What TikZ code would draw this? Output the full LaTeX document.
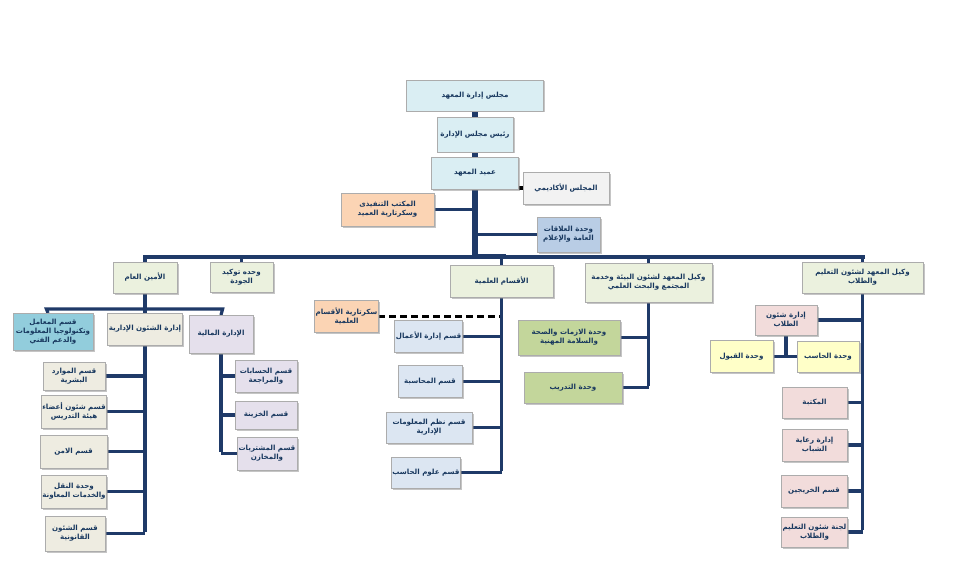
\documentclass[tikz,border=0pt]{standalone}
\usepackage{fontspec}
\usetikzlibrary{shadows}
\TeXXeTstate=1
\newfontfamily\arabicfont[Script=Arabic]{DejaVu Sans}
\newcommand\ar[1]{{\arabicfont\bfseries\beginR #1\endR}}
\definecolor{txt}{HTML}{17375E}
\definecolor{navy}{HTML}{1F3A68}
\definecolor{topblue}{HTML}{DAEEF3}
\definecolor{acadgray}{HTML}{F2F2F2}
\definecolor{peach}{HTML}{FBD4B4}
\definecolor{prblue}{HTML}{B9CDE5}
\definecolor{topgreen}{HTML}{EBF1DE}
\definecolor{itblue}{HTML}{92CDDC}
\definecolor{beige}{HTML}{EEECE1}
\definecolor{lav}{HTML}{E5E0EC}
\definecolor{lblue}{HTML}{DCE6F2}
\definecolor{grn}{HTML}{C3D69B}
\definecolor{pnk}{HTML}{F2DCDB}
\definecolor{yel}{HTML}{FFFFC8}
\pgfdeclarelayer{bg}
\pgfsetlayers{bg,main}
\begin{document}
\begin{tikzpicture}[x=1pt,y=-1pt,
  box/.style={draw=gray!65, line width=0.8pt, align=center, inner sep=1pt, outer sep=0pt,
    text=txt, font=\fontsize{7.1}{9}\selectfont,
    drop shadow={shadow xshift=1.5pt, shadow yshift=-1.5pt, fill=black!45, opacity=0.5}},
  conn/.style={draw=navy, line width=3.2pt},
  spine/.style={draw=navy, line width=5.5pt},
  blk/.style={draw=black, line width=3.4pt},
  dsh/.style={draw=black, line width=2.8pt, dash pattern=on 7pt off 4pt}]
\useasboundingbox (0,0) rectangle (953,575);
% top chain
\node[box, fill=topblue, minimum width=137pt, minimum height=31pt] (council) at (475,95.5) {\ar{مجلس إدارة المعهد}};
\node[box, fill=topblue, minimum width=76pt, minimum height=35pt] (chair) at (475,134.5) {\ar{رئيس مجلس الإدارة}};
\node[box, fill=topblue, minimum width=87pt, minimum height=32pt] (dean) at (475,173) {\ar{عميد المعهد}};
\node[box, fill=acadgray, minimum width=86pt, minimum height=32pt] (acad) at (566,188) {\ar{المجلس الأكاديمي}};
\node[box, fill=peach, minimum width=93pt, minimum height=33pt] (exec) at (387.5,209.5) {\ar{المكتب التنفيذى}\\\ar{وسكرتارية العميد}};
\node[box, fill=prblue, minimum width=63pt, minimum height=35pt] (pr) at (568.5,234.5) {\ar{وحدة العلاقات}\\\ar{العامة والإعلام}};
% first level
\node[box, fill=topgreen, minimum width=64pt, minimum height=31pt] (amin) at (145,277.5) {\ar{الأمين العام}};
\node[box, fill=topgreen, minimum width=63pt, minimum height=30pt] (jawda) at (241.5,277) {\ar{وحده توكيد}\\\ar{الجودة}};
\node[box, fill=topgreen, minimum width=103pt, minimum height=32pt] (aqsam) at (501.5,281) {\ar{الأقسام العلمية}};
\node[box, fill=topgreen, minimum width=127pt, minimum height=39pt] (bia) at (648.5,282.5) {\ar{وكيل المعهد لشئون البيئة وخدمة}\\\ar{المجتمع والبحث العلمي}};
\node[box, fill=topgreen, minimum width=121pt, minimum height=31pt] (talim) at (862.5,277.5) {\ar{وكيل المعهد لشئون التعليم}\\\ar{والطلاب}};
% amin branch
\node[box, fill=itblue, minimum width=80pt, minimum height=37pt] (it) at (53,331.5) {\ar{قسم المعامل}\\\ar{وتكنولوجيا المعلومات}\\\ar{والدعم الفني}};
\node[box, fill=beige, minimum width=75pt, minimum height=32pt] (idara) at (145,329) {\ar{إدارة الشئون الإدارية}};
\node[box, fill=lav, minimum width=64pt, minimum height=38pt] (mali) at (221,334) {\ar{الإدارة المالية}};
\node[box, fill=beige, minimum width=62pt, minimum height=28pt] (hr) at (74,376) {\ar{قسم الموارد}\\\ar{البشرية}};
\node[box, fill=beige, minimum width=62pt, minimum height=33pt] (staff) at (74,411.5) {\ar{قسم شئون أعضاء}\\\ar{هيئة التدريس}};
\node[box, fill=beige, minimum width=67pt, minimum height=33pt] (amn) at (73.5,451.5) {\ar{قسم الامن}};
\node[box, fill=beige, minimum width=62pt, minimum height=33pt] (naql) at (74,491.5) {\ar{وحدة النقل}\\\ar{والخدمات المعاونة}};
\node[box, fill=beige, minimum width=60pt, minimum height=35pt] (law) at (75,533.5) {\ar{قسم الشئون}\\\ar{القانونية}};
\node[box, fill=lav, minimum width=62pt, minimum height=32pt] (hisab) at (266,376) {\ar{قسم الحسابات}\\\ar{والمراجعة}};
\node[box, fill=lav, minimum width=62pt, minimum height=28pt] (khaz) at (266,415) {\ar{قسم الخزينة}};
\node[box, fill=lav, minimum width=60pt, minimum height=33pt] (mush) at (267,453.5) {\ar{قسم المشتريات}\\\ar{والمخازن}};
% aqsam branch
\node[box, fill=peach, minimum width=63pt, minimum height=32pt] (sec) at (346.5,316.5) {\ar{سكرتارية الأقسام}\\\ar{العلمية}};
\node[box, fill=lblue, minimum width=63pt, minimum height=32pt] (bus) at (428.5,336.5) {\ar{قسم إدارة الأعمال}};
\node[box, fill=lblue, minimum width=64pt, minimum height=32pt] (acct) at (430,381.5) {\ar{قسم المحاسبة}};
\node[box, fill=lblue, minimum width=86pt, minimum height=31pt] (mis) at (429,427.5) {\ar{قسم نظم المعلومات}\\\ar{الإدارية}};
\node[box, fill=lblue, minimum width=68pt, minimum height=31pt] (cs) at (426,472.5) {\ar{قسم علوم الحاسب}};
% bia branch
\node[box, fill=grn, minimum width=102pt, minimum height=35pt] (crisis) at (569,337.5) {\ar{وحدة الازمات والصحة}\\\ar{والسلامة المهنية}};
\node[box, fill=grn, minimum width=98pt, minimum height=31pt] (train) at (573,387.5) {\ar{وحدة التدريب}};
% talim branch
\node[box, fill=pnk, minimum width=62pt, minimum height=30pt] (stud) at (786,320) {\ar{إدارة شئون}\\\ar{الطلاب}};
\node[box, fill=yel, minimum width=63pt, minimum height=32pt] (qabul) at (741.5,356.5) {\ar{وحدة القبول}};
\node[box, fill=yel, minimum width=62pt, minimum height=31pt] (hasib) at (828,356.5) {\ar{وحدة الحاسب}};
\node[box, fill=pnk, minimum width=65pt, minimum height=31pt] (lib) at (814.5,402.5) {\ar{المكتبة}};
\node[box, fill=pnk, minimum width=65pt, minimum height=32pt] (youth) at (814.5,445) {\ar{إدارة رعاية}\\\ar{الشباب}};
\node[box, fill=pnk, minimum width=66pt, minimum height=32pt] (grad) at (814,491) {\ar{قسم الخريجين}};
\node[box, fill=pnk, minimum width=65pt, minimum height=30pt] (lajna) at (814.5,532) {\ar{لجنة شئون التعليم}\\\ar{والطلاب}};
\coordinate (busL) at (145,257);
\coordinate (busR) at (863,257);
\coordinate (subL) at (48,309);
\begin{pgfonlayer}{bg}
\fill[white] (0,0) rectangle (953,575);
% top spine
\draw[spine] (council.south) -- (chair.north);
\draw[spine] (chair.south) -- (dean.north);
\draw[spine] (dean.south) -- ([yshift=2pt]dean.south |- busL);
\draw[blk] (acad.west) -- (acad.west -| dean.south);
\draw[conn] (exec.east) -- (exec.east -| dean.south);
\draw[conn] (pr.west) -- (pr.west -| dean.south);
% main bus
\draw[conn] ([xshift=-1.6pt]busL) -- ([xshift=1.6pt]busR);
\draw[line width=5.5pt, draw=navy] ([xshift=-2.7pt,yshift=0.5pt]dean.south |- busL) -- ++(34,0);
\draw[conn] (amin.north) -- (amin.north |- busL);
\draw[conn] (jawda.north) -- (jawda.north |- busL);
\draw[conn] (aqsam.north) -- (aqsam.north |- busL);
\draw[conn] (bia.north) -- (bia.north |- busL);
\draw[conn] (talim.north) -- (talim.north |- busL);
% amin sub-bus
\draw[conn] (amin.south) -- (idara.north);
\draw[conn] (it.north -| subL) -- ([xshift=-1.6pt]subL) -- ([xshift=1.6pt]mali.north |- subL) -- (mali.north);
\draw[conn] (idara.south) -- ([yshift=1.6pt]idara.south |- law.east);
\foreach \n in {hr,staff,amn,naql,law} \draw[conn] (\n.east) -- (\n.east -| idara.south);
\draw[conn] (mali.south) -- ([yshift=1.6pt]mali.south |- mush.west);
\foreach \n in {hisab,khaz,mush} \draw[conn] (\n.west) -- (\n.west -| mali.south);
% aqsam
\draw[conn] (aqsam.south) -- ([yshift=1.6pt]aqsam.south |- cs.east);
\foreach \n in {bus,acct,mis,cs} \draw[conn] (\n.east) -- (\n.east -| aqsam.south);
\draw[dsh] (sec.east) -- ([xshift=-2pt]sec.east -| aqsam.south);
% bia
\draw[conn] (bia.south) -- ([yshift=1.6pt]bia.south |- train.east);
\foreach \n in {crisis,train} \draw[conn] (\n.east) -- (\n.east -| bia.south);
% talim
\draw[conn] (talim.south) -- ([yshift=1.6pt]talim.south |- lajna.east);
\foreach \n in {stud,lib,youth,grad,lajna} \draw[conn] (\n.east) -- (\n.east -| talim.south);
\draw[conn] (stud.south) -- (stud.south |- qabul.east);
\draw[conn] (qabul.east) -- (hasib.west);
\end{pgfonlayer}
\end{tikzpicture}
\end{document}
